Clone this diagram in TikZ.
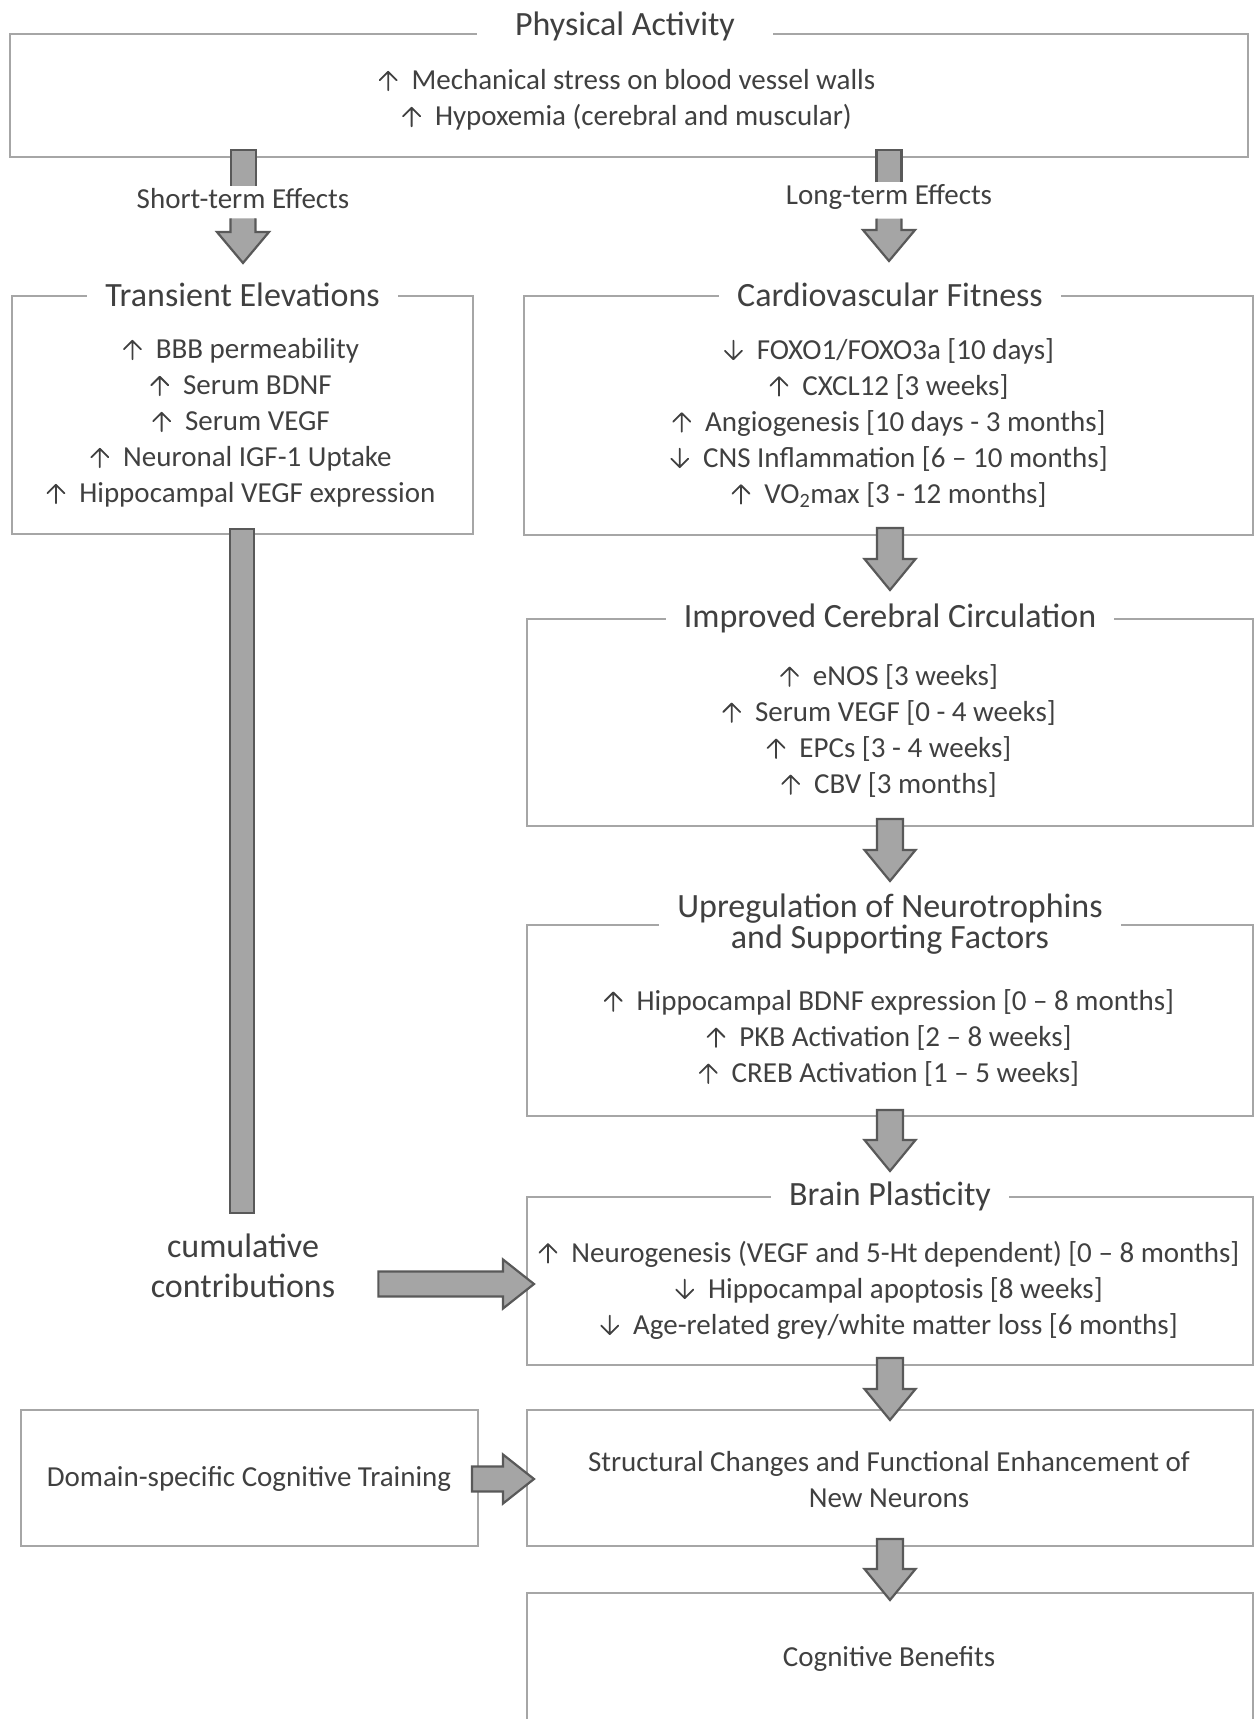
\documentclass[tikz,border=0pt]{standalone}
\usepackage{fontspec}
\setmainfont{Carlito}
\usetikzlibrary{calc}
\definecolor{boxgray}{HTML}{A6A6A6}
\definecolor{arrfill}{HTML}{A5A5A5}
\definecolor{arrline}{HTML}{595959}
\definecolor{txt}{HTML}{404040}
\newcommand\ua{\tikz[baseline=0pt,x=1pt,y=1pt]\draw[txt,line width=1.8pt,line cap=round,line join=round] (0,-0.5)--(0,18) (-8.5,9.5)--(0,18)--(8.5,9.5);\hspace{14pt}}
\newcommand\da{\tikz[baseline=0pt,x=1pt,y=1pt]\draw[txt,line width=1.8pt,line cap=round,line join=round] (0,18.5)--(0,0) (-8.5,8.5)--(0,0)--(8.5,8.5);\hspace{14pt}}
% vertical block arrow: #1 top-centre point, #2 point giving tip height
\newcommand\varrow[2]{%
  \filldraw[blk] let \p1=(#1), \p2=(#2) in
   (\x1-13pt,\y1) -- (\x1-13pt,\y2+31pt) -- (\x1-25.5pt,\y2+31pt) -- (\x1,\y2)
   -- (\x1+25.5pt,\y2+31pt) -- (\x1+13pt,\y2+31pt) -- (\x1+13pt,\y1) -- cycle;}
% horizontal block arrow: #1 left-centre point, #2 point giving tip x
\newcommand\harrow[2]{%
  \filldraw[blk] let \p1=(#1), \p2=(#2) in
   (\x1,\y1+12.5pt) -- (\x2-31pt,\y1+12.5pt) -- (\x2-31pt,\y1+24.5pt) -- (\x2,\y1)
   -- (\x2-31pt,\y1-24.5pt) -- (\x2-31pt,\y1-12.5pt) -- (\x1,\y1-12.5pt) -- cycle;}
% open stub (no bottom edge): #1 top-centre, #2 bottom point
\newcommand\stub[2]{%
  \filldraw[blk] let \p1=(#1), \p2=(#2) in
   (\x1-12.5pt,\y2) -- (\x1-12.5pt,\y1) -- (\x1+12.5pt,\y1) -- (\x1+12.5pt,\y2);}
% arrow without top edge: #1 top-centre, #2 tip point
\newcommand\tailarrow[2]{%
  \filldraw[blk] let \p1=(#1), \p2=(#2) in
   (\x1-12.5pt,\y1) -- (\x1-12.5pt,\y2+31pt) -- (\x1-26pt,\y2+31pt) -- (\x1,\y2)
   -- (\x1+26pt,\y2+31pt) -- (\x1+12.5pt,\y2+31pt) -- (\x1+12.5pt,\y1);}
\begin{document}
\begin{tikzpicture}[x=1pt,y=-1pt,
  panel/.style={draw=boxgray, line width=2pt, anchor=north west, inner sep=0pt},
  ttl/.style={fill=white, text=txt, font=\fontsize{34}{31}\selectfont, inner xsep=18pt, inner ysep=0pt, align=center},
  body/.style={text=txt, font=\fontsize{29}{36}\selectfont, align=center, inner sep=0pt},
  big/.style={text=txt, font=\fontsize{34}{40}\selectfont, align=center, inner sep=0pt},
  blk/.style={fill=arrfill, draw=arrline, line width=2.2pt, line join=miter},
]
\useasboundingbox (0,0) rectangle (1260,1719);
\begin{scope}
\clip (0,0) rectangle (1260,1719);
% ---- boxes
\node[panel, minimum width=1238pt, minimum height=123pt] (pa) at (9,33) {};
\node[panel, minimum width=461pt, minimum height=238pt] (tr) at (11,295) {};
\node[panel, minimum width=729pt, minimum height=239pt] (cf) at (523,295) {};
\node[panel, minimum width=726pt, minimum height=207pt] (icc) at (526,618) {};
\node[panel, minimum width=726pt, minimum height=191pt] (up) at (526,924) {};
\node[panel, minimum width=726pt, minimum height=168pt] (bp) at (526,1196) {};
\node[panel, minimum width=726pt, minimum height=136pt] (st) at (526,1409) {};
\node[panel, minimum width=457pt, minimum height=136pt] (dom) at (20,1409) {};
\node[panel, minimum width=726pt, minimum height=160pt] (cb) at (526,1592) {};
\end{scope}
% ---- titles
\node[ttl, inner xsep=38pt] (paT) at ($(pa.north)+(-4,-7)$) {Physical Activity};
\node[ttl] (trT) at (tr.north) {Transient Elevations};
\node[ttl] (cfT) at ($(cf.north)+(1.5,0)$) {Cardiovascular Fitness};
\node[ttl] (iccT) at (icc.north) {Improved Cerebral Circulation};
\node[ttl] (upT) at (up.north) {Upregulation of Neurotrophins\\and Supporting Factors};
\node[ttl] (bpT) at (bp.north) {Brain Plasticity};
% ---- body texts
\node[body] (paB) at (627,100) {\ua Mechanical stress on blood vessel walls\\\ua Hypoxemia (cerebral and muscular)};
\node[body] (trB) at (241,423) {\ua BBB permeability\\\ua Serum BDNF\\\ua Serum VEGF\\\ua Neuronal IGF-1 Uptake\\\ua Hippocampal VEGF expression};
\node[body] (cfB) at (889,423) {\da FOXO1/FOXO3a [10 days]\\\ua CXCL12 [3 weeks]\\\ua Angiogenesis [10 days - 3 months]\\\da CNS Inflammation [6 -- 10 months]\\\ua VO\textsubscript{2}max [3 - 12 months]};
\node[body] (iccB) at (889,731) {\ua eNOS [3 weeks]\\\ua Serum VEGF [0 - 4 weeks]\\\ua EPCs [3 - 4 weeks]\\\ua CBV [3 months]};
\node[body] (upB) at (889,1038) {\ua Hippocampal BDNF expression [0 -- 8 months]\\\ua PKB Activation [2 -- 8 weeks]\\\ua CREB Activation [1 -- 5 weeks]};
\node[body] (bpB) at (889,1290) {\ua Neurogenesis (VEGF and 5-Ht dependent) [0 -- 8 months]\\\da Hippocampal apoptosis [8 weeks]\\\da Age-related grey/white matter loss [6 months]};
\node[body] (stB) at (889,1480) {Structural Changes and Functional Enhancement of\\New Neurons};
\node[body] (domB) at (249,1479) {Domain-specific Cognitive Training};
\node[body] (cbB) at (889,1659) {Cognitive Benefits};
\node[body] (stS) at (243,199) {Short-term Effects};
\node[body] (stL) at (889,197) {Long-term Effects};
\node[big] (cum) at (243,1266) {cumulative\\contributions};
% ---- connectors
\stub{$(pa.south west)+(234.5,-8)$}{$(stS.north)+(0,-3)$}
\stub{$(pa.south west)+(880,-8)$}{$(stL.north)+(0,-2)$}
\tailarrow{$(stS.south)+(0,9)$}{$(tr.north)+(0,-32)$}
\tailarrow{$(stL.south)+(0,9)$}{$(cf.north)+(1.5,-34)$}
\filldraw[blk] ($(tr.south)+(-12.5,-6)$) rectangle ($(cum.north)+(11,-21)$);
\varrow{$(cf.south)+(1.5,-8)$}{$(icc.north)+(0,-28)$}
\varrow{$(icc.south)+(0,-8)$}{$(up.north)+(0,-43)$}
\varrow{$(up.south)+(0,-7)$}{$(bp.north)+(0,-25)$}
\varrow{$(bp.south)+(0,-8)$}{$(st.north)+(0,11)$}
\varrow{$(st.south)+(0,-8)$}{$(cb.north)+(0,8)$}
\harrow{$(cum.east)+(43,18)$}{$(bp.west)+(8,0)$}
\harrow{$(dom.east)+(-7,1)$}{$(st.west)+(8,0)$}
\end{tikzpicture}
\end{document}
